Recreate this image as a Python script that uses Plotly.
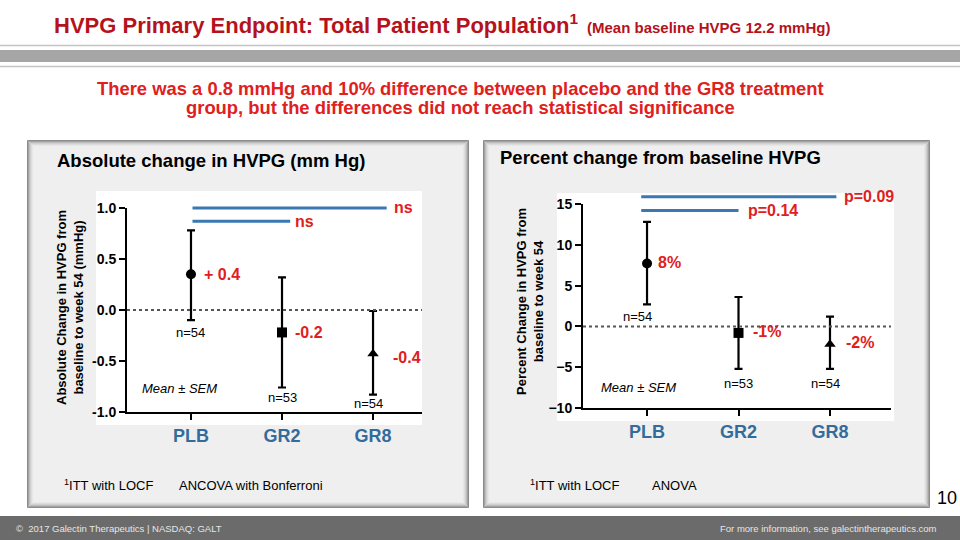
import plotly.graph_objects as go

# ---------------- data ----------------
groups = ["PLB", "GR2", "GR8"]
n_labels = ["n=54", "n=53", "n=54"]
symbols = ["circle", "square", "triangle-up"]

abs_mean = [0.35, -0.22, -0.43]
abs_hi = [0.78, 0.32, -0.01]
abs_lo = [-0.10, -0.76, -0.83]
abs_value_labels = ["+ 0.4", "-0.2", "-0.4"]
abs_ticks = [-1.0, -0.5, 0.0, 0.5, 1.0]
abs_ticktext = ["-1.0", "-0.5", "0.0", "0.5", "1.0"]
abs_comparisons = [(1.00, "ns"), (0.87, "ns")]

pct_mean = [7.7, -0.8, -2.2]
pct_hi = [12.8, 3.6, 1.2]
pct_lo = [2.7, -5.2, -5.2]
pct_value_labels = ["8%", "-1%", "-2%"]
pct_ticks = [-10, -5, 0, 5, 10, 15]
pct_comparisons = [(15.9, "p=0.09"), (14.2, "p=0.14")]

# ---------------- layout helpers ----------------
W, H = 960, 540
def px(x): return x / W
def py(y): return 1 - y / H

RED = "#e0201c"
DARKRED = "#b5121b"
BLUE_LINE = "#3a78b2"
BLUE_TXT = "#336b9c"
FONT = "Liberation Sans, Arial, sans-serif"

fig = go.Figure()
shapes = []
ann = []

def text(x, y, t, size, color="black", bold=False, italic=False, xa="center", ya="middle", angle=0):
    ann.append(dict(xref="paper", yref="paper", x=px(x), y=py(y), text=t, showarrow=False,
                    xanchor=xa, yanchor=ya, textangle=angle,
                    font=dict(family=FONT, size=size, color=color,
                              weight="bold" if bold else "normal",
                              style="italic" if italic else "normal")))

# top band
shapes += [
    dict(type="line", xref="paper", yref="paper", x0=0, x1=1, y0=py(45.5), y1=py(45.5), line=dict(color="#c4c4c4", width=1.5)),
    dict(type="rect", xref="paper", yref="paper", x0=0, x1=1, y0=py(62), y1=py(50), fillcolor="#a6a6a6", line=dict(width=0)),
    dict(type="line", xref="paper", yref="paper", x0=0, x1=1, y0=py(66.5), y1=py(66.5), line=dict(color="#c4c4c4", width=1.5)),
]
# footer
shapes.append(dict(type="rect", xref="paper", yref="paper", x0=0, x1=1, y0=0, y1=py(516), fillcolor="#6b6b6b", line=dict(width=0)))

# panel boxes with bevel
def panel(x0, x1, y0, y1):
    out = [dict(type="rect", xref="paper", yref="paper", x0=px(x0), x1=px(x1), y0=py(y1), y1=py(y0),
                fillcolor="#efefef", line=dict(width=0), layer="below")]
    cols = ["#8a8a8a", "#a4a4a4", "#bcbcbc", "#cfcfcf", "#dddddd", "#e7e7e7"]
    for k, c in enumerate(cols):
        out.append(dict(type="rect", xref="paper", yref="paper",
                        x0=px(x0 + k + 0.5), x1=px(x1 - k - 0.5), y0=py(y1 - k - 0.5), y1=py(y0 + k + 0.5),
                        line=dict(color=c, width=1), layer="below"))
    return out

shapes += panel(27, 469, 140, 508)
shapes += panel(483, 930, 140, 508)
# white plot areas
shapes.append(dict(type="rect", xref="paper", yref="paper", x0=px(96), x1=px(422), y0=py(425), y1=py(191),
                   fillcolor="white", line=dict(width=0), layer="below"))
shapes.append(dict(type="rect", xref="paper", yref="paper", x0=px(557), x1=px(894), y0=py(421), y1=py(193),
                   fillcolor="white", line=dict(width=0), layer="below"))

# ---------------- axes geometry ----------------
L_X = (127, 422); L_XR = [-0.703, 2.538]
L_Y = (412, 208); L_YR = [-1, 1]
R_X = (583, 891); R_XR = [-0.70, 2.667]
R_Y = (408, 204); R_YR = [-10, 15]
TOP_EXT = 180  # pixel top of the helper axes used for comparison brackets

def helper_range(ypix, yr):
    per = (ypix[0] - ypix[1]) / (yr[1] - yr[0])
    return [yr[0], yr[0] + (ypix[0] - TOP_EXT) / per]

# ---------------- traces ----------------
def add_series(mean, hi, lo, xa, ya):
    fig.add_trace(go.Scatter(
        x=list(range(len(groups))), y=mean, mode="markers",
        marker=dict(symbol=symbols, size=10, color="black"),
        error_y=dict(type="data", symmetric=False,
                     array=[h - m for h, m in zip(hi, mean)],
                     arrayminus=[m - l for m, l in zip(mean, lo)],
                     color="black", thickness=2.2, width=4),
        xaxis=xa, yaxis=ya, showlegend=False, cliponaxis=False, hoverinfo="skip"))

add_series(abs_mean, abs_hi, abs_lo, "x", "y")
add_series(pct_mean, pct_hi, pct_lo, "x2", "y2")
# empty traces so helper axes exist
fig.add_trace(go.Scatter(x=[], y=[], xaxis="x", yaxis="y3", showlegend=False, hoverinfo="skip"))
fig.add_trace(go.Scatter(x=[], y=[], xaxis="x2", yaxis="y4", showlegend=False, hoverinfo="skip"))

# zero dotted lines
for xr, yr in (("x", "y"), ("x2", "y2")):
    shapes.append(dict(type="line", xref=f"{xr} domain", yref=yr, x0=0, x1=1, y0=0, y1=0,
                       line=dict(color="#555555", width=2, dash="dot")))

# comparison brackets
def bracket(xr, yr, xs, xe, yv, xl, lab):
    ann.append(dict(xref=xr, yref=yr, x=xe, y=yv, ax=xs, ay=yv, axref=xr, ayref=yr, text="",
                    showarrow=True, arrowhead=0, arrowwidth=3, arrowcolor=BLUE_LINE, standoff=0, startstandoff=0))
    ann.append(dict(xref=xr, yref=yr, x=xl, y=yv, text=lab, showarrow=False, xanchor="left", yanchor="middle",
                    font=dict(family=FONT, size=16, color=RED, weight="bold")))

abs_bracket_x = [(0.0, 2.15, 2.21), (0.0, 1.09, 1.12)]
for (yv, lab), (xs, xe, xl) in zip(abs_comparisons, abs_bracket_x):
    bracket("x", "y3", xs, xe, yv, xl, lab)
pct_bracket_x = [(-0.08, 2.07, 2.13), (-0.08, 1.00, 1.08)]
for (yv, lab), (xs, xe, xl) in zip(pct_comparisons, pct_bracket_x):
    bracket("x2", "y4", xs, xe, yv, xl, lab)

# value labels
abs_lab_pos = [(0.12, 0.35), (0.12, -0.22), (0.20, -0.47)]
for i, (lab, (dx, yv)) in enumerate(zip(abs_value_labels, abs_lab_pos)):
    ann.append(dict(xref="x", yref="y", x=i + dx, y=yv, text=lab, showarrow=False, xanchor="left", yanchor="middle",
                    font=dict(family=FONT, size=16, color=RED, weight="bold")))
pct_lab_pos = [(0.10, 7.8), (0.14, -0.6), (0.15, -2.0)]
for i, (lab, (dx, yv)) in enumerate(zip(pct_value_labels, pct_lab_pos)):
    ann.append(dict(xref="x2", yref="y2", x=i + dx, y=yv, text=lab, showarrow=False, xanchor="left", yanchor="middle",
                    font=dict(family=FONT, size=16, color=RED, weight="bold")))

# n labels
abs_n_pos = [(0.0, -0.22), (0.0, -0.86), (-0.05, -0.92)]
for i, (lab, (dx, yv)) in enumerate(zip(n_labels, abs_n_pos)):
    ann.append(dict(xref="x", yref="y", x=i + dx, y=yv, text=lab, showarrow=False, xanchor="center", yanchor="middle",
                    font=dict(family=FONT, size=13, color="black")))
pct_n_pos = [(-0.1, 1.2), (0.0, -7.0), (-0.05, -7.0)]
for i, (lab, (dx, yv)) in enumerate(zip(n_labels, pct_n_pos)):
    ann.append(dict(xref="x2", yref="y2", x=i + dx, y=yv, text=lab, showarrow=False, xanchor="center", yanchor="middle",
                    font=dict(family=FONT, size=13, color="black")))

text(179, 388, "Mean ± SEM", 13, italic=True)
text(638, 387, "Mean ± SEM", 13, italic=True)

# axis titles
text(70, 308, "Absolute Change in HVPG from<br>baseline to week 54 (mmHg)", 13, bold=True, angle=-90)
text(530, 302, "Percent Change in HVPG from<br>baseline to week 54", 13, bold=True, angle=-90)

# panel titles
text(55, 160, "Absolute change in HVPG (mm Hg)", 18.5, bold=True, xa="left")
text(498, 157, "Percent change from baseline HVPG", 18.5, bold=True, xa="left")

# footnotes
for x, t in ((62, "<sup>1</sup>ITT with LOCF"), (177, "ANCOVA with Bonferroni"),
             (528, "<sup>1</sup>ITT with LOCF"), (650, "ANOVA")):
    text(x, 485, t, 13, xa="left")

# title
text(52, 24, "HVPG Primary Endpoint: Total Patient Population<sup>1</sup>", 22, DARKRED, bold=True, xa="left")
text(585, 27, "(Mean baseline HVPG 12.2 mmHg)", 15, DARKRED, bold=True, xa="left")
# subtitle (two lines)
text(460, 88, "There was a 0.8 mmHg and 10% difference between placebo and the GR8 treatment", 18.4, RED, bold=True)
text(460, 108, "group, but the differences did not reach statistical significance", 18.4, RED, bold=True)
# page number
text(947, 498, "10", 18)
# footer texts
text(14, 528, "©  2017 Galectin Therapeutics | NASDAQ: GALT", 9.5, "#e6e6e6", xa="left")
text(939, 528, "For more information, see galectintherapeutics.com", 9.5, "#e6e6e6", xa="right")

axis_common = dict(showline=True, linecolor="black", linewidth=2, ticks="outside", ticklen=6, tickwidth=2,
                   tickcolor="black", showgrid=False, zeroline=False, fixedrange=True, automargin=False)
xfont = dict(family=FONT, size=18, color=BLUE_TXT, weight="bold")
yfont = dict(family=FONT, size=14, color="black", weight="bold")
hidden = dict(visible=False, showgrid=False, zeroline=False, fixedrange=True, automargin=False)

fig.update_layout(
    width=W, height=H, margin=dict(l=0, r=0, t=0, b=0, pad=0, autoexpand=False),
    paper_bgcolor="white", plot_bgcolor="rgba(0,0,0,0)",
    xaxis=dict(domain=[px(L_X[0]), px(L_X[1])], range=L_XR, tickvals=[0, 1, 2], ticktext=groups,
               tickfont=xfont, anchor="y", **axis_common),
    yaxis=dict(domain=[py(L_Y[0]), py(L_Y[1])], range=L_YR, tickvals=abs_ticks, ticktext=abs_ticktext,
               tickfont=yfont, anchor="x", **axis_common),
    xaxis2=dict(domain=[px(R_X[0]), px(R_X[1])], range=R_XR, tickvals=[0, 1, 2], ticktext=groups,
                tickfont=xfont, anchor="y2", **axis_common),
    yaxis2=dict(domain=[py(R_Y[0]), py(R_Y[1])], range=R_YR, tickvals=pct_ticks,
                tickfont=yfont, anchor="x2", **axis_common),
    yaxis3=dict(domain=[py(L_Y[0]), py(TOP_EXT)], range=helper_range(L_Y, L_YR), anchor="x", **hidden),
    yaxis4=dict(domain=[py(R_Y[0]), py(TOP_EXT)], range=helper_range(R_Y, R_YR), anchor="x2", **hidden),
    shapes=shapes, annotations=ann, showlegend=False,
)

fig.write_html("out.html")
